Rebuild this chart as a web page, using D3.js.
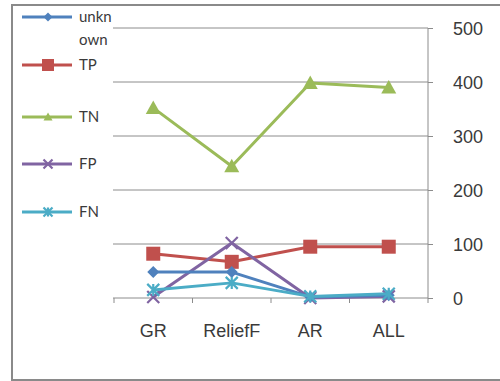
<!DOCTYPE html>
<html>
<head>
<meta charset="utf-8">
<script src="https://cdn.jsdelivr.net/npm/d3@7"></script>
<style>
  html, body { margin: 0; padding: 0; background: #fff; }
  svg { display: block; font-family: Lato, "Open Sans", sans-serif; }
</style>
</head>
<body>
<svg id="chart" width="500" height="381"></svg>
<script>
// Categories and series
const categories = ["GR", "ReliefF", "AR", "ALL"];
const seriesNames = ["unknown", "TP", "TN", "FP", "FN"];
const unknownVals = [48, 48, 2, 5];
const tpVals = [82, 67, 95, 95];
const tnVals = [352, 244, 398, 390];
const fpVals = [2, 102, 0, 3];
const fnVals = [15, 28, 3, 8];
const yTicks = [0, 100, 200, 300, 400, 500];

const colors = ["#4F81BD", "#C0504D", "#9BBB59", "#8064A2", "#4BACC6"];
const markers = ["diamond", "square", "triangle", "x", "star"];
const values = [unknownVals, tpVals, tnVals, fpVals, fnVals];

const svg = d3.select("#chart");

// outer frame
svg.append("rect").attr("x", 12).attr("y", 5).attr("width", 500).attr("height", 375)
  .attr("fill", "none").attr("stroke", "#8a8a8a").attr("stroke-width", 2);

const plotLeft = 114, plotRight = 428, plotTop = 28, plotBottom = 298;
const x = d3.scaleBand().domain(categories).range([plotLeft, plotRight]);
const y = d3.scaleLinear().domain([0, 500]).range([plotBottom, plotTop]);

// horizontal gridlines
svg.append("g").selectAll("line").data(yTicks.filter(d => d > 0)).join("line")
  .attr("x1", plotLeft - 1).attr("x2", plotRight)
  .attr("y1", d => y(d)).attr("y2", d => y(d))
  .attr("stroke", "#8c8c8c").attr("stroke-width", 1);

// right value axis
const yAxis = svg.append("g").attr("transform", `translate(${plotRight},0)`)
  .call(d3.axisRight(y).tickValues(yTicks).tickSize(5));
yAxis.select(".domain").attr("stroke", "#8c8c8c").attr("d", `M0,${plotTop}V${plotBottom}`);
yAxis.selectAll(".tick line").attr("stroke", "#8c8c8c");
yAxis.selectAll("text").attr("font-size", 18).attr("fill", "#3a3a3a")
  .attr("text-anchor", "start").attr("x", 25).attr("dy", "0.35em");

// category axis
const xAxis = svg.append("g").attr("transform", `translate(0,${plotBottom})`)
  .call(d3.axisBottom(x).tickSize(0).tickPadding(30));
xAxis.select(".domain").attr("stroke", "#8c8c8c").attr("d", `M${plotLeft - 1},0H${plotRight}`);
xAxis.selectAll("text").attr("font-size", 18).attr("fill", "#3a3a3a").attr("dy", "0.5em");
svg.append("g").selectAll("line").data(categories.concat(["end"])).join("line")
  .attr("x1", (d, i) => plotLeft + i * x.bandwidth()).attr("x2", (d, i) => plotLeft + i * x.bandwidth())
  .attr("y1", plotBottom).attr("y2", plotBottom + 5)
  .attr("stroke", "#8c8c8c");

const cx = c => x(c) + x.bandwidth() / 2;

function drawMarker(g, type, color, size) {
  const s = size;
  if (type === "diamond") {
    g.append("path").attr("d", `M0,${-s}L${s},0L0,${s}L${-s},0Z`).attr("fill", color);
  } else if (type === "square") {
    g.append("rect").attr("x", -s).attr("y", -s).attr("width", 2 * s).attr("height", 2 * s).attr("fill", color);
  } else if (type === "triangle") {
    g.append("path").attr("d", `M0,${-s}L${s},${s * 0.8}L${-s},${s * 0.8}Z`).attr("fill", color);
  } else if (type === "x") {
    g.append("path").attr("d", `M${-s},${-s}L${s},${s}M${-s},${s}L${s},${-s}`)
      .attr("stroke", color).attr("stroke-width", 2.2);
  } else if (type === "star") {
    g.append("path").attr("d", `M${-s},${-s}L${s},${s}M${-s},${s}L${s},${-s}M0,${-s}V${s}`)
      .attr("stroke", color).attr("stroke-width", 2.2);
  }
}

const line = d3.line().x(d => cx(d.c)).y(d => y(d.v));

// draw series (green drawn first so low-value lines sit on top)
const order = [2, 1, 3, 0, 4];
order.forEach(i => {
  const pts = categories.map((c, j) => ({ c, v: values[i][j] }));
  svg.append("path").datum(pts).attr("d", line)
    .attr("fill", "none").attr("stroke", colors[i]).attr("stroke-width", 3)
    .attr("stroke-linejoin", "round");
  pts.forEach(p => {
    const g = svg.append("g").attr("transform", `translate(${cx(p.c)},${y(p.v)})`);
    const sz = markers[i] === "square" ? 7 : (markers[i] === "triangle" ? 7.5 : 6);
    drawMarker(g, markers[i], colors[i], sz);
  });
});

// legend
const legendY = [17, 65, 117, 164, 212];
const legend = svg.append("g");
seriesNames.forEach((name, i) => {
  const g = legend.append("g").attr("transform", `translate(0,${legendY[i]})`);
  g.append("line").attr("x1", 22).attr("x2", 72).attr("y1", 0).attr("y2", 0)
    .attr("stroke", colors[i]).attr("stroke-width", 3);
  const m = g.append("g").attr("transform", "translate(48,0)");
  drawMarker(m, markers[i], colors[i], markers[i] === "square" ? 6 : 4.5);
  const t = g.append("text").attr("x", 79).attr("y", 5).attr("font-size", 15).attr("fill", "#3a3a3a");
  if (name === "unknown") {
    t.append("tspan").attr("x", 79).text("unkn");
    t.append("tspan").attr("x", 79).attr("dy", 23).text("own");
  } else {
    t.text(name);
  }
});
</script>
</body>
</html>
